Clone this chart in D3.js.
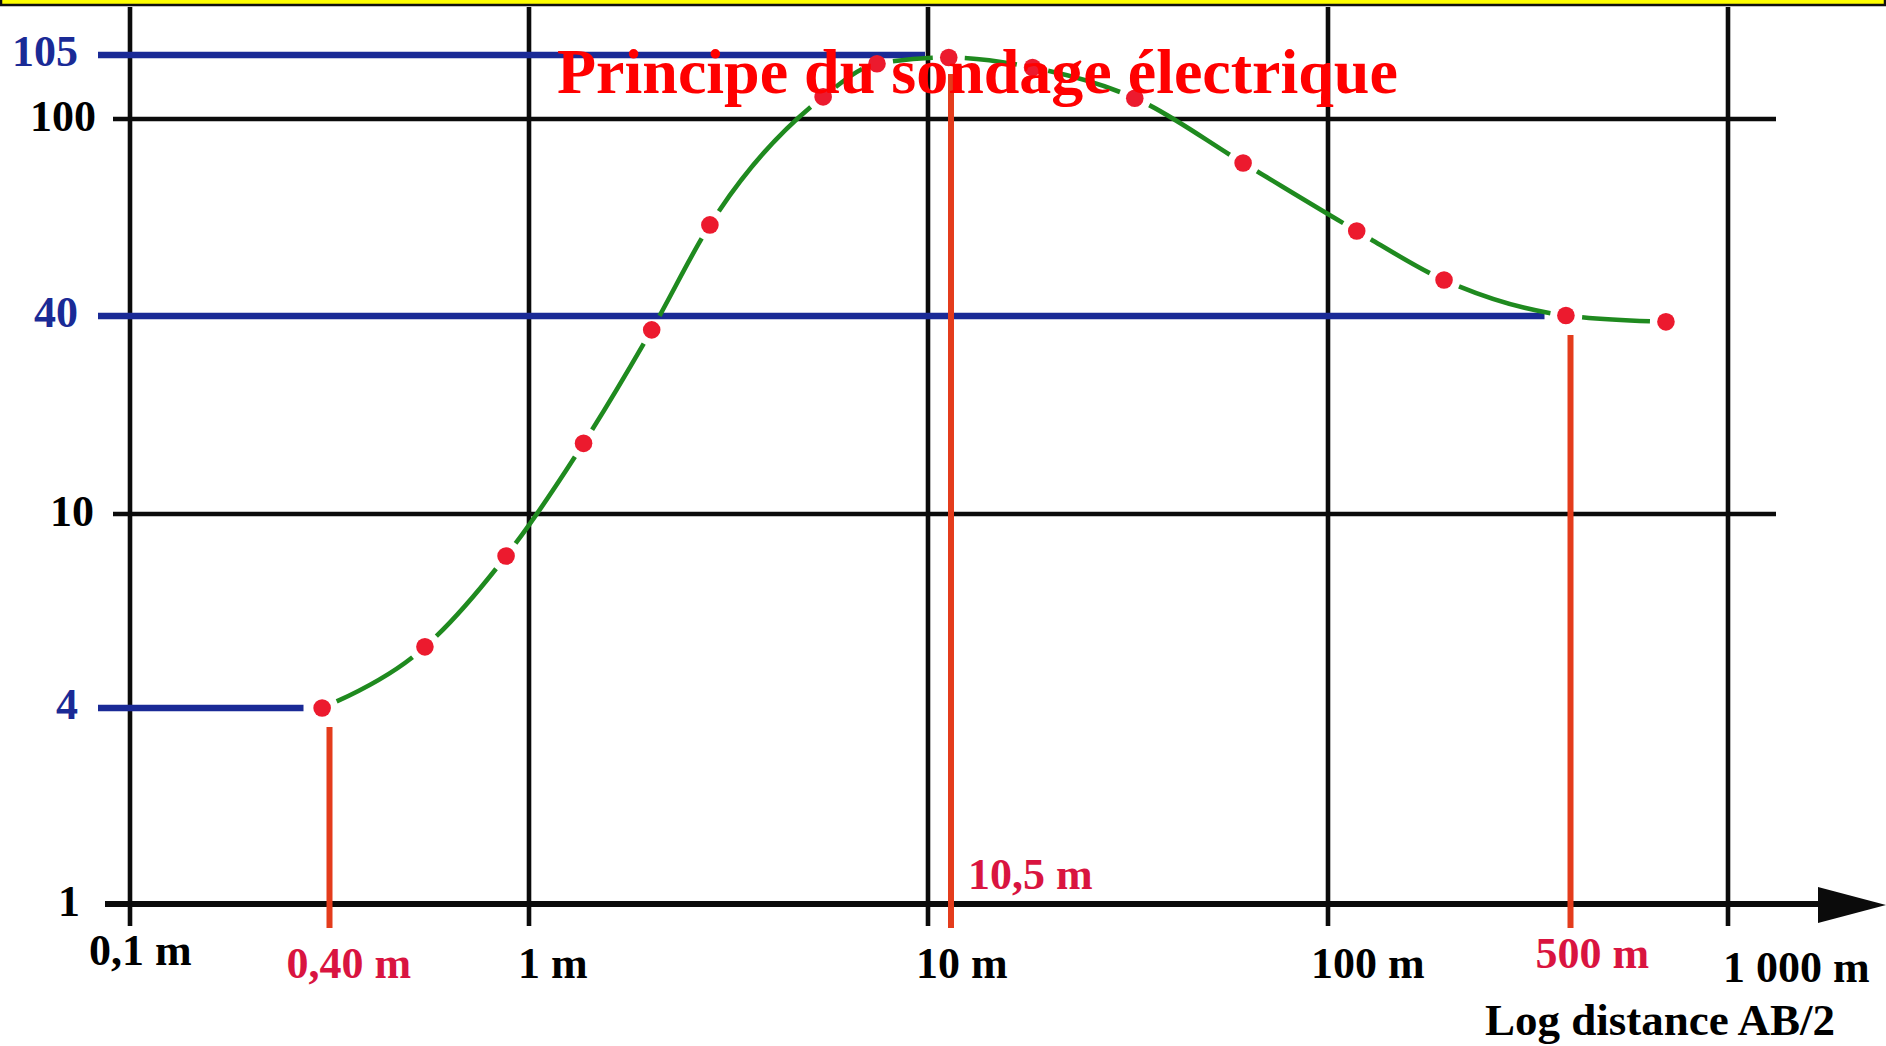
<!DOCTYPE html>
<html><head><meta charset="utf-8">
<script src="https://cdn.jsdelivr.net/npm/d3@7"></script>
<style>html,body{margin:0;padding:0;background:#fff;overflow:hidden}</style>
</head><body>
<svg id="c" width="1886" height="1046"></svg>
<script>
// ---------- data ----------
const title = "Principe du sondage électrique";
const xAxisTitle = "Log distance AB/2";
const xTicks = [0.1, 1, 10, 100, 1000];
const xTickLabels = ["0,1 m", "1 m", "10 m", "100 m", "1 000 m"];
const yGridTicks = [1, 10, 100];
const yGridLabels = ["1", "10", "100"];
const yMarkTicks = [4, 40, 105];
const yMarkLabels = ["4", "40", "105"];
// measured points (distance AB/2 in m, apparent resistivity)
const distances   = [0.38, 0.62, 0.90, 1.37, 2.03, 2.84, 5.46, 7.45, 10.45, 17.1, 31.5, 60.2, 121, 216, 485, 761];
const resistivity = [4.0, 5.34, 8.2, 16.4, 36.3, 61.1, 101.7, 104.3, 104.8, 104.0, 101.6, 81.5, 59.4, 47.3, 40.1, 38.4];
// highlighted readings
const markX = [0.40, 10.5, 500];
const markY = [4, 105, 40];
const markLabels = ["0,40 m", "10,5 m", "500 m"];

// ---------- layout / style ----------
const W = 1886, H = 1046;
const FONT = "'Liberation Serif', 'Times New Roman', serif";
const C = { grid: "#0b0b0b", blue: "#1a2a96", redLine: "#e43c1c", green: "#1f8a1f",
            dot: "#ec1a2e", markText: "#d91440", title: "#ff0000" };
// schematic (hand-drawn) log scales: piecewise in log space
const x = d3.scaleLog()
  .domain([0.1, 0.4, 1, 10, 10.5, 100, 500, 1000])
  .range([130, 329.5, 529, 928, 951, 1328, 1570.5, 1728]);
const y = d3.scaleLog()
  .domain([1, 4, 10, 40, 100, 105])
  .range([904, 708, 514, 316, 119, 55]);
const gridTop = 7, gridBottom = 926, gridRight = 1776, gridLeft = 113;
const xLabelStyle = { "0,1 m": [-41, 965], "1 m": [-11, 978], "10 m": [-12, 978], "100 m": [-17, 978], "1 000 m": [-5, 982] };
const markLabelStyle = { "0,40 m": [-43, 978], "10,5 m": [17, 889], "500 m": [-35, 968] };
const yGridLabelEnd = { "1": 80, "10": 94, "100": 96 };

const svg = d3.select("#c");
svg.append("rect").attr("width", W).attr("height", H).attr("fill", "#fff");

// top yellow band
svg.append("rect").attr("x", 1).attr("y", -6).attr("width", W - 2).attr("height", 11)
  .attr("fill", "#ffff00").attr("stroke", "#111").attr("stroke-width", 2.5);

// vertical grid lines
svg.append("g").selectAll("line").data(xTicks).join("line")
  .attr("x1", d => x(d)).attr("x2", d => x(d))
  .attr("y1", gridTop).attr("y2", gridBottom)
  .attr("stroke", C.grid).attr("stroke-width", 4.6);

// horizontal grid lines (10, 100)
svg.append("g").selectAll("line").data(yGridTicks.filter(d => d !== 1)).join("line")
  .attr("x1", gridLeft).attr("x2", gridRight)
  .attr("y1", d => y(d)).attr("y2", d => y(d))
  .attr("stroke", C.grid).attr("stroke-width", 4.6);

// x axis with arrow
const y1 = y(1);
svg.append("line").attr("x1", 105).attr("x2", 1825).attr("y1", y1).attr("y2", y1)
  .attr("stroke", C.grid).attr("stroke-width", 6);
svg.append("path")
  .attr("d", `M1818,${y1 - 17} L${W},${y1 + 1} L1818,${y1 + 19} Z`)
  .attr("fill", C.grid);

// blue horizontal reference lines and red vertical ones
const marks = markX.map((d, i) => ({ x: d, y: markY[i], label: markLabels[i] }));
svg.append("g").selectAll("line").data(marks).join("line")
  .attr("x1", 98).attr("x2", d => x(d.x) - 26)
  .attr("y1", d => y(d.y)).attr("y2", d => y(d.y))
  .attr("stroke", C.blue).attr("stroke-width", 6.5);
svg.append("g").selectAll("line").data(marks).join("line")
  .attr("x1", d => x(d.x)).attr("x2", d => x(d.x))
  .attr("y1", d => y(d.y) + 19).attr("y2", 928)
  .attr("stroke", C.redLine).attr("stroke-width", 6);

// green sounding curve with gaps around points
const pts = distances.map((d, i) => [x(d), y(resistivity[i])]);
const curve = svg.append("path")
  .attr("d", d3.line().curve(d3.curveMonotoneX)(pts))
  .attr("fill", "none").attr("stroke", C.green).attr("stroke-width", 4.6);
(function () {
  const node = curve.node(), total = node.getTotalLength();
  const samples = [];
  for (let l = 0; l <= total; l += 0.5) { const p = node.getPointAtLength(l); samples.push([l, p.x, p.y]); }
  let start = 0;
  const L = pts.map(p => {
    let best = start, bd = Infinity;
    for (let k = start; k < samples.length; k++) {
      const dd = (samples[k][1] - p[0]) ** 2 + (samples[k][2] - p[1]) ** 2;
      if (dd < bd) { bd = dd; best = k; }
    }
    start = best;
    return samples[best][0];
  });
  const g = 16, arr = [0, g];
  for (let i = 1; i < L.length; i++) {
    arr.push(Math.max(0, L[i] - L[i - 1] - 2 * g));
    arr.push(2 * g);
  }
  arr.push(total);
  curve.attr("stroke-dasharray", arr.join(","));
})();

// points
svg.append("g").selectAll("circle").data(pts).join("circle")
  .attr("cx", d => d[0]).attr("cy", d => d[1]).attr("r", 8.8)
  .attr("fill", C.dot);

// y labels
svg.append("g").selectAll("text").data(yGridTicks).join("text")
  .attr("x", (d, i) => yGridLabelEnd[yGridLabels[i]]).attr("y", d => y(d) + 12)
  .attr("text-anchor", "end").attr("font-family", FONT).attr("font-weight", "bold")
  .attr("font-size", 44).attr("fill", "#000").text((d, i) => yGridLabels[i]);
svg.append("g").selectAll("text").data(yMarkTicks).join("text")
  .attr("x", 78).attr("y", d => y(d) + 11)
  .attr("text-anchor", "end").attr("font-family", FONT).attr("font-weight", "bold")
  .attr("font-size", 44).attr("fill", C.blue).text((d, i) => yMarkLabels[i]);

// x labels
svg.append("g").selectAll("text").data(xTicks).join("text")
  .attr("x", (d, i) => x(d) + xLabelStyle[xTickLabels[i]][0])
  .attr("y", (d, i) => xLabelStyle[xTickLabels[i]][1])
  .attr("font-family", FONT).attr("font-weight", "bold").attr("font-size", 44)
  .attr("fill", "#000").text((d, i) => xTickLabels[i]);
svg.append("g").selectAll("text").data(marks).join("text")
  .attr("x", d => x(d.x) + markLabelStyle[d.label][0])
  .attr("y", d => markLabelStyle[d.label][1])
  .attr("font-family", FONT).attr("font-weight", "bold").attr("font-size", 44)
  .attr("fill", C.markText).text(d => d.label);

svg.append("text").attr("x", 1485).attr("y", 1035)
  .attr("font-family", FONT).attr("font-weight", "bold").attr("font-size", 45)
  .attr("fill", "#000").text(xAxisTitle);

// title
svg.append("text").attr("x", 557).attr("y", 93)
  .attr("font-family", FONT).attr("font-weight", "bold").attr("font-size", 64)
  .attr("fill", C.title).text(title);
</script>
</body></html>
